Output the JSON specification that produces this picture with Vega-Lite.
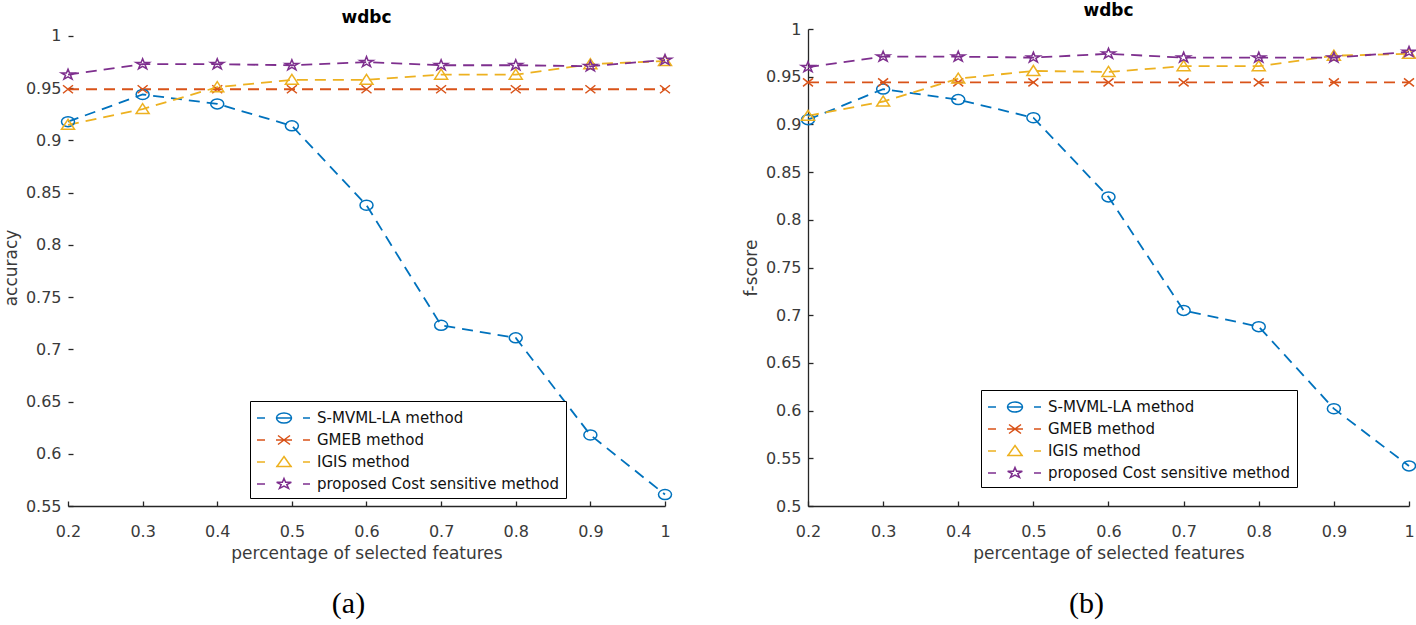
{
  "$schema": "https://vega.github.io/schema/vega-lite/v6.json",
  "background": "white",
  "padding": {"left": 2, "top": 2, "right": 0, "bottom": 0},
  "spacing": 51,
  "config": {
    "view": {"stroke": null},
    "axis": {
      "grid": false,
      "domainColor": "#262626",
      "domainWidth": 1.3,
      "tickColor": "#262626",
      "tickWidth": 1.3,
      "tickSize": -5,
      "labelFlush": false,
      "labelFont": "DejaVu Sans",
      "labelFontSize": 16,
      "labelColor": "#3a3a3a",
      "titleFont": "DejaVu Sans",
      "titleFontSize": 17,
      "titleFontWeight": "normal",
      "titleColor": "#3a3a3a"
    },
    "legend": {"labelLimit": 400},
    "title": {"font": "DejaVu Sans", "fontSize": 17, "fontWeight": "bold", "color": "#000", "frame": "group"}
  },
  "datasets": {
    "acc": [
      {"x": 0.2, "method": "S-MVML-LA method", "v": 0.918},
      {"x": 0.3, "method": "S-MVML-LA method", "v": 0.944},
      {"x": 0.4, "method": "S-MVML-LA method", "v": 0.935},
      {"x": 0.5, "method": "S-MVML-LA method", "v": 0.914},
      {"x": 0.6, "method": "S-MVML-LA method", "v": 0.838},
      {"x": 0.7, "method": "S-MVML-LA method", "v": 0.723},
      {"x": 0.8, "method": "S-MVML-LA method", "v": 0.711},
      {"x": 0.9, "method": "S-MVML-LA method", "v": 0.618},
      {"x": 1.0, "method": "S-MVML-LA method", "v": 0.561},
      {"x": 0.2, "method": "GMEB method", "v": 0.949},
      {"x": 0.3, "method": "GMEB method", "v": 0.949},
      {"x": 0.4, "method": "GMEB method", "v": 0.949},
      {"x": 0.5, "method": "GMEB method", "v": 0.949},
      {"x": 0.6, "method": "GMEB method", "v": 0.949},
      {"x": 0.7, "method": "GMEB method", "v": 0.949},
      {"x": 0.8, "method": "GMEB method", "v": 0.949},
      {"x": 0.9, "method": "GMEB method", "v": 0.949},
      {"x": 1.0, "method": "GMEB method", "v": 0.949},
      {"x": 0.2, "method": "IGIS method", "v": 0.915},
      {"x": 0.3, "method": "IGIS method", "v": 0.930},
      {"x": 0.4, "method": "IGIS method", "v": 0.951},
      {"x": 0.5, "method": "IGIS method", "v": 0.958},
      {"x": 0.6, "method": "IGIS method", "v": 0.958},
      {"x": 0.7, "method": "IGIS method", "v": 0.963},
      {"x": 0.8, "method": "IGIS method", "v": 0.963},
      {"x": 0.9, "method": "IGIS method", "v": 0.973},
      {"x": 1.0, "method": "IGIS method", "v": 0.976},
      {"x": 0.2, "method": "proposed Cost sensitive method", "v": 0.963},
      {"x": 0.3, "method": "proposed Cost sensitive method", "v": 0.973},
      {"x": 0.4, "method": "proposed Cost sensitive method", "v": 0.973},
      {"x": 0.5, "method": "proposed Cost sensitive method", "v": 0.972},
      {"x": 0.6, "method": "proposed Cost sensitive method", "v": 0.975},
      {"x": 0.7, "method": "proposed Cost sensitive method", "v": 0.972},
      {"x": 0.8, "method": "proposed Cost sensitive method", "v": 0.972},
      {"x": 0.9, "method": "proposed Cost sensitive method", "v": 0.971},
      {"x": 1.0, "method": "proposed Cost sensitive method", "v": 0.977}
    ],
    "fs": [
      {"x": 0.2, "method": "S-MVML-LA method", "v": 0.905},
      {"x": 0.3, "method": "S-MVML-LA method", "v": 0.937},
      {"x": 0.4, "method": "S-MVML-LA method", "v": 0.926},
      {"x": 0.5, "method": "S-MVML-LA method", "v": 0.907},
      {"x": 0.6, "method": "S-MVML-LA method", "v": 0.824},
      {"x": 0.7, "method": "S-MVML-LA method", "v": 0.705},
      {"x": 0.8, "method": "S-MVML-LA method", "v": 0.688},
      {"x": 0.9, "method": "S-MVML-LA method", "v": 0.602},
      {"x": 1.0, "method": "S-MVML-LA method", "v": 0.542},
      {"x": 0.2, "method": "GMEB method", "v": 0.944},
      {"x": 0.3, "method": "GMEB method", "v": 0.944},
      {"x": 0.4, "method": "GMEB method", "v": 0.944},
      {"x": 0.5, "method": "GMEB method", "v": 0.944},
      {"x": 0.6, "method": "GMEB method", "v": 0.944},
      {"x": 0.7, "method": "GMEB method", "v": 0.944},
      {"x": 0.8, "method": "GMEB method", "v": 0.944},
      {"x": 0.9, "method": "GMEB method", "v": 0.944},
      {"x": 1.0, "method": "GMEB method", "v": 0.944},
      {"x": 0.2, "method": "IGIS method", "v": 0.909},
      {"x": 0.3, "method": "IGIS method", "v": 0.924},
      {"x": 0.4, "method": "IGIS method", "v": 0.948},
      {"x": 0.5, "method": "IGIS method", "v": 0.956},
      {"x": 0.6, "method": "IGIS method", "v": 0.955},
      {"x": 0.7, "method": "IGIS method", "v": 0.961},
      {"x": 0.8, "method": "IGIS method", "v": 0.961},
      {"x": 0.9, "method": "IGIS method", "v": 0.972},
      {"x": 1.0, "method": "IGIS method", "v": 0.974},
      {"x": 0.2, "method": "proposed Cost sensitive method", "v": 0.960},
      {"x": 0.3, "method": "proposed Cost sensitive method", "v": 0.971},
      {"x": 0.4, "method": "proposed Cost sensitive method", "v": 0.971},
      {"x": 0.5, "method": "proposed Cost sensitive method", "v": 0.970},
      {"x": 0.6, "method": "proposed Cost sensitive method", "v": 0.974},
      {"x": 0.7, "method": "proposed Cost sensitive method", "v": 0.970},
      {"x": 0.8, "method": "proposed Cost sensitive method", "v": 0.970},
      {"x": 0.9, "method": "proposed Cost sensitive method", "v": 0.970},
      {"x": 1.0, "method": "proposed Cost sensitive method", "v": 0.976}
    ]
  },
  "hconcat": [
    {
      "spacing": 23,
      "vconcat": [
        {
          "width": 597,
          "height": 477,
          "title": {"text": "wdbc", "offset": 1},
          "data": {"name": "acc"},
          "resolve": {"scale": {"color": "independent", "shape": "independent"}},
          "encoding": {
            "x": {"field": "x", "type": "quantitative", "scale": {"domain": [0.2, 1], "nice": false, "zero": false},
                  "axis": {"title": "percentage of selected features", "values": [0.2, 0.3, 0.4, 0.5, 0.6, 0.7, 0.8, 0.9, 1], "format": "~g", "labelPadding": 22, "titlePadding": 6}},
            "y": {"field": "v", "type": "quantitative", "scale": {"domain": [0.55, 1.0067], "nice": false, "zero": false},
                  "axis": {"title": "accuracy", "domain": false, "values": [0.55, 0.6, 0.65, 0.7, 0.75, 0.8, 0.85, 0.9, 0.95, 1], "format": "~g", "labelPadding": 12, "titlePadding": 5}}
          },
          "layer": [
            {
              "data": {"values": [{}]},
              "mark": {"type": "rule", "color": "#262626", "strokeWidth": 1.3},
              "encoding": {"x": {"datum": 0.2}, "y": {"datum": 0.55}, "y2": {"datum": 1}}
            },
            {
              "mark": {"type": "line", "strokeDash": [11, 7], "strokeWidth": 1.8},
              "encoding": {"color": {"field": "method", "type": "nominal", "legend": null,
                "scale": {"domain": ["S-MVML-LA method", "GMEB method", "IGIS method", "proposed Cost sensitive method"], "range": ["#0072BD", "#D95319", "#EDB120", "#7E2F8E"]}}}
            },
            {
              "mark": {"type": "point", "filled": false, "strokeWidth": 1.5, "size": 100, "opacity": 1},
              "encoding": {
                "color": {"field": "method", "type": "nominal", "legend": null,
                  "scale": {"domain": ["S-MVML-LA method", "GMEB method", "IGIS method", "proposed Cost sensitive method"], "range": ["#0072BD", "#D95319", "#EDB120", "#7E2F8E"]}},
                "shape": {"field": "method", "type": "nominal", "legend": null,
                  "scale": {"domain": ["S-MVML-LA method", "GMEB method", "IGIS method", "proposed Cost sensitive method"],
                    "range": ["M1.3,0A1.3,1 0 1,1 -1.3,0A1.3,1 0 1,1 1.3,0Z", "M-1,-0.8L1,0.8M-1,0.8L1,-0.8", "M0,-1.1L1.3,0.9L-1.3,0.9Z", "M0,-1.1L0.309,-0.34L1.308,-0.34L0.499,0.13L0.809,0.89L0,0.42L-0.809,0.89L-0.499,0.13L-1.308,-0.34L-0.309,-0.34Z"]}}
              }
            },
            {
              "mark": {"type": "point", "filled": false, "opacity": 0, "size": 400},
              "encoding": {
                "color": {"field": "method", "type": "nominal",
                  "scale": {"domain": ["S-MVML-LA method", "GMEB method", "IGIS method", "proposed Cost sensitive method"], "range": ["#0072BD", "#D95319", "#EDB120", "#7E2F8E"]},
                  "legend": {"title": null, "orient": "none", "legendX": 182, "legendY": 372, "strokeColor": "#000", "fillColor": "#fff", "padding": 6, "rowPadding": 3, "symbolSize": 400, "symbolStrokeWidth": 1.5, "symbolOpacity": 1, "symbolOffset": 17, "labelOffset": 22, "labelFont": "DejaVu Sans", "labelFontSize": 15, "labelColor": "#111", "labelLimit": 400}},
                "shape": {"field": "method", "type": "nominal",
                  "scale": {"domain": ["S-MVML-LA method", "GMEB method", "IGIS method", "proposed Cost sensitive method"],
                    "range": [
                      "M-2.7,0H-1.9M1.9,0H2.6M-0.8,0H0.8M0.75,0A0.75,0.5 0 1,1 -0.75,0A0.75,0.5 0 1,1 0.75,0Z",
                      "M-2.7,0H-1.9M1.9,0H2.6M-0.8,0H0.8M-0.6,-0.45L0.6,0.45M-0.6,0.45L0.6,-0.45",
                      "M-2.7,0H-1.9M1.9,0H2.6M-0.8,0.45H0.8M0,-0.55L0.7,0.45L-0.7,0.45Z",
                      "M-2.7,0H-1.9M1.9,0H2.6M0,-0.55L0.165,-0.17L0.732,-0.17L0.28,0.065L0.453,0.445L0,0.21L-0.453,0.445L-0.28,0.065L-0.732,-0.17L-0.165,-0.17Z"
                    ]},
                  "legend": {"title": null, "orient": "none", "legendX": 182, "legendY": 372, "strokeColor": "#000", "fillColor": "#fff", "padding": 6, "rowPadding": 3, "symbolSize": 400, "symbolStrokeWidth": 1.5, "symbolOpacity": 1, "symbolOffset": 17, "labelOffset": 22, "labelFont": "DejaVu Sans", "labelFontSize": 15, "labelColor": "#111", "labelLimit": 400}}
              }
            }
          ]
        },
        {
          "width": 597,
          "height": 40,
          "data": {"values": [{"cap": "(a)"}]},
          "mark": {"type": "text", "font": "Liberation Serif", "fontSize": 30, "color": "#000", "baseline": "middle", "dx": -18},
          "encoding": {"text": {"field": "cap", "type": "nominal"}}
        }
      ]
    },
    {
      "spacing": 23,
      "vconcat": [
        {
          "width": 601,
          "height": 477,
          "title": {"text": "wdbc", "offset": 1},
          "data": {"name": "fs"},
          "resolve": {"scale": {"color": "independent", "shape": "independent"}},
          "encoding": {
            "x": {"field": "x", "type": "quantitative", "scale": {"domain": [0.2, 1], "nice": false, "zero": false},
                  "axis": {"title": "percentage of selected features", "values": [0.2, 0.3, 0.4, 0.5, 0.6, 0.7, 0.8, 0.9, 1], "format": "~g", "labelPadding": 22, "titlePadding": 6}},
            "y": {"field": "v", "type": "quantitative", "scale": {"domain": [0.5, 1], "nice": false, "zero": false},
                  "axis": {"title": "f-score", "values": [0.5, 0.55, 0.6, 0.65, 0.7, 0.75, 0.8, 0.85, 0.9, 0.95, 1], "format": "~g", "labelPadding": 12, "titlePadding": 5}}
          },
          "layer": [
            {
              "mark": {"type": "line", "strokeDash": [11, 7], "strokeWidth": 1.8},
              "encoding": {"color": {"field": "method", "type": "nominal", "legend": null,
                "scale": {"domain": ["S-MVML-LA method", "GMEB method", "IGIS method", "proposed Cost sensitive method"], "range": ["#0072BD", "#D95319", "#EDB120", "#7E2F8E"]}}}
            },
            {
              "mark": {"type": "point", "filled": false, "strokeWidth": 1.5, "size": 100, "opacity": 1},
              "encoding": {
                "color": {"field": "method", "type": "nominal", "legend": null,
                  "scale": {"domain": ["S-MVML-LA method", "GMEB method", "IGIS method", "proposed Cost sensitive method"], "range": ["#0072BD", "#D95319", "#EDB120", "#7E2F8E"]}},
                "shape": {"field": "method", "type": "nominal", "legend": null,
                  "scale": {"domain": ["S-MVML-LA method", "GMEB method", "IGIS method", "proposed Cost sensitive method"],
                    "range": ["M1.3,0A1.3,1 0 1,1 -1.3,0A1.3,1 0 1,1 1.3,0Z", "M-1,-0.8L1,0.8M-1,0.8L1,-0.8", "M0,-1.1L1.3,0.9L-1.3,0.9Z", "M0,-1.1L0.309,-0.34L1.308,-0.34L0.499,0.13L0.809,0.89L0,0.42L-0.809,0.89L-0.499,0.13L-1.308,-0.34L-0.309,-0.34Z"]}}
              }
            },
            {
              "mark": {"type": "point", "filled": false, "opacity": 0, "size": 400},
              "encoding": {
                "color": {"field": "method", "type": "nominal",
                  "scale": {"domain": ["S-MVML-LA method", "GMEB method", "IGIS method", "proposed Cost sensitive method"], "range": ["#0072BD", "#D95319", "#EDB120", "#7E2F8E"]},
                  "legend": {"title": null, "orient": "none", "legendX": 173, "legendY": 361, "strokeColor": "#000", "fillColor": "#fff", "padding": 6, "rowPadding": 3, "symbolSize": 400, "symbolStrokeWidth": 1.5, "symbolOpacity": 1, "symbolOffset": 17, "labelOffset": 22, "labelFont": "DejaVu Sans", "labelFontSize": 15, "labelColor": "#111", "labelLimit": 400}},
                "shape": {"field": "method", "type": "nominal",
                  "scale": {"domain": ["S-MVML-LA method", "GMEB method", "IGIS method", "proposed Cost sensitive method"],
                    "range": [
                      "M-2.7,0H-1.9M1.9,0H2.6M-0.8,0H0.8M0.75,0A0.75,0.5 0 1,1 -0.75,0A0.75,0.5 0 1,1 0.75,0Z",
                      "M-2.7,0H-1.9M1.9,0H2.6M-0.8,0H0.8M-0.6,-0.45L0.6,0.45M-0.6,0.45L0.6,-0.45",
                      "M-2.7,0H-1.9M1.9,0H2.6M-0.8,0.45H0.8M0,-0.55L0.7,0.45L-0.7,0.45Z",
                      "M-2.7,0H-1.9M1.9,0H2.6M0,-0.55L0.165,-0.17L0.732,-0.17L0.28,0.065L0.453,0.445L0,0.21L-0.453,0.445L-0.28,0.065L-0.732,-0.17L-0.165,-0.17Z"
                    ]},
                  "legend": {"title": null, "orient": "none", "legendX": 173, "legendY": 361, "strokeColor": "#000", "fillColor": "#fff", "padding": 6, "rowPadding": 3, "symbolSize": 400, "symbolStrokeWidth": 1.5, "symbolOpacity": 1, "symbolOffset": 17, "labelOffset": 22, "labelFont": "DejaVu Sans", "labelFontSize": 15, "labelColor": "#111", "labelLimit": 400}}
              }
            }
          ]
        },
        {
          "width": 601,
          "height": 40,
          "data": {"values": [{"cap": "(b)"}]},
          "mark": {"type": "text", "font": "Liberation Serif", "fontSize": 30, "color": "#000", "baseline": "middle", "dx": -22},
          "encoding": {"text": {"field": "cap", "type": "nominal"}}
        }
      ]
    }
  ]
}
